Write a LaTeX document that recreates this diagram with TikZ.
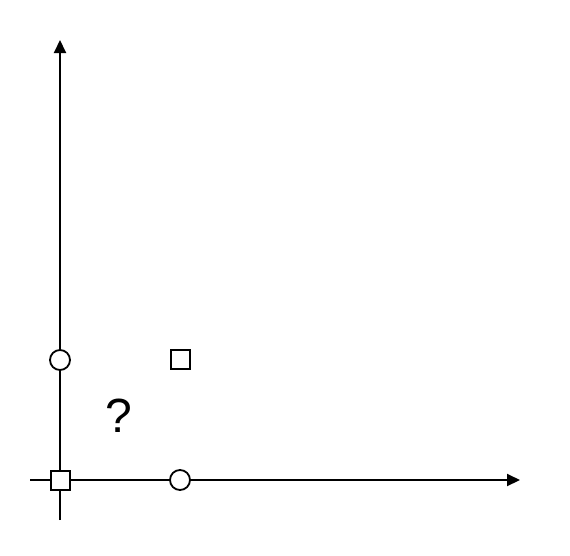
\documentclass[tikz,border=0pt]{standalone}
\usepackage{fontspec}
\setmainfont{Liberation Sans}
\usetikzlibrary{arrows.meta}
\begin{document}
\begin{tikzpicture}[x=1pt,y=-1pt,
  axis/.style={line width=2pt,-{Triangle[length=13pt,width=12pt]}},
  sq/.style={draw,line width=2pt,fill=white,minimum size=19pt,inner sep=0pt},
  circ/.style={draw,circle,line width=1.8pt,fill=white,minimum size=20pt,inner sep=0pt}]
\useasboundingbox (0,0) rectangle (570,555);
\coordinate (ybot) at (60,520);
\coordinate (ytop) at (60,40);
\coordinate (xleft) at (30,480);
\coordinate (xright) at (520,480);
\draw[axis] (ybot) -- (ytop);
\draw[axis] (xleft) -- (xright);
\node[sq] (o) at (60,480) {};
\node[circ] (cx) at (180,480) {};
\node[circ] (cy) at (60,360) {};
\node[sq] (p) at (180,359.5) {};
\node[font=\fontsize{48}{48}\selectfont,inner sep=0pt] (q) at (119,416) {?};
\end{tikzpicture}
\end{document}
